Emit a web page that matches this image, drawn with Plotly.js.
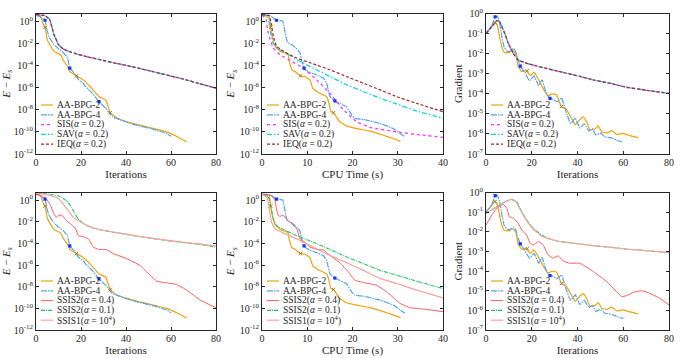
<!DOCTYPE html>
<html>
<head>
<meta charset="utf-8">
<script src="https://cdn.plot.ly/plotly-3.0.1.min.js"></script>
<style>
	html, body { margin: 0; padding: 0; background: #fff; }
	#chart { width: 692px; height: 358px; }
</style>
</head>
<body>
<div id="chart"></div>
<script>
	'use strict';

	/**
	* Values
	* E - Es is the energy error, Gradient is the gradient norm
	*/

	// AA-BPG-2 : E - Es vs iterations (top left & bottom left)
	const iterAA2 = [0, 2, 3, 4, 5, 7, 8, 11, 12, 14, 15, 18, 21, 24, 26, 28, 31, 33, 36, 43, 51, 58, 63, 67];
	const errIterAA2 = [3.2, 2.8, 0.71, 0.28, 2.2e-2, 3.8e-3, 1.9e-3, 9.3e-4, 3.3e-4, 8.1e-5, 2.8e-5, 1.15e-5, 5.0e-6, 1.26e-6, 4.4e-7, 1.5e-7, 7.6e-8, 5.4e-9, 1.7e-9, 5.8e-10, 2.3e-10, 1.0e-10, 3.5e-11, 1.26e-11];

	// AA-BPG-4 : E - Es vs iterations
	const iterAA4 = [0, 1, 4, 5, 6, 8, 10, 12, 14, 15, 17, 19, 21, 22, 25, 28, 31, 34, 37, 43, 51, 58, 60];
	const errIterAA4 = [3.5, 3.2, 1.23, 0.126, 3.2e-2, 7.9e-3, 3.2e-3, 1.6e-3, 5.0e-4, 5.8e-5, 2.0e-5, 5.0e-6, 2.5e-6, 1.26e-6, 3.2e-7, 5.4e-8, 1.35e-8, 2.3e-9, 1.35e-9, 5.0e-10, 2.0e-10, 7.1e-11, 4.0e-11];

	// SIS / SAV / IEQ (alpha = 0.2) overlap : E - Es vs iterations
	const iterSemi = [0, 4, 6, 8, 10, 12, 14, 18, 23, 28, 35, 43, 50, 58, 65, 72, 80];
	const errIterSemi = [4.2, 3.2, 1.58, 6.3e-2, 7.6e-3, 3.2e-3, 2.1e-3, 1.1e-3, 6.0e-4, 3.5e-4, 1.66e-4, 7.6e-5, 3.5e-5, 1.4e-5, 6.3e-6, 2.5e-6, 8.9e-7];

	// E - Es vs CPU time (top middle & bottom middle)
	const timeAA2 = [0, 1.6, 1.9, 2.2, 2.5, 2.9, 4.0, 5.1, 5.8, 6.0, 6.6, 7.3, 8.5, 9.5, 10.6, 11.2, 12.1, 14.3, 14.8, 15.2, 15.8, 17.2, 18.7, 20.9, 23.9, 26.8, 29, 30.6];
	const errTimeAA2 = [3.2, 2.8, 0.28, 5.0e-2, 1.6e-2, 5.4e-3, 1.9e-3, 1.35e-3, 9.3e-4, 2.3e-4, 4.0e-5, 2.8e-5, 1.15e-5, 1.0e-5, 5.0e-6, 8.9e-7, 4.4e-7, 1.5e-7, 3.8e-8, 6.6e-9, 5.4e-9, 8.1e-10, 3.3e-10, 2.0e-10, 1.15e-10, 5.0e-11, 2.5e-11, 1.4e-11];

	const timeAA4 = [0, 1.8, 3.2, 4.1, 4.6, 5.1, 5.6, 6.6, 7.7, 8.4, 8.8, 9.3, 10.2, 12.1, 13.6, 14.3, 15.0, 16.1, 17.2, 18.7, 19.8, 20.5, 22.4, 26.1, 29, 31.6];
	const errTimeAA4 = [3.5, 3.2, 1.23, 1.12, 1.0, 8.9e-2, 1.26e-2, 7.6e-3, 3.2e-3, 1.35e-3, 2.3e-4, 5.8e-5, 2.8e-5, 1.4e-5, 7.1e-6, 2.5e-6, 1.6e-7, 6.3e-8, 3.8e-8, 1.86e-8, 3.3e-9, 1.66e-9, 1.35e-9, 5.8e-10, 2.0e-10, 3.5e-11];

	const timeSIS = [0, 0.9, 1.2, 1.8, 2.5, 4, 6.2, 9.1, 12.1, 15, 18, 20.9, 23.9, 29.8, 34.2, 40];
	const errTimeSIS = [4.0, 1.4, 0.18, 2.2e-2, 3.8e-3, 9.3e-4, 2.9e-4, 5.8e-5, 5.0e-6, 3.2e-7, 1.0e-8, 8.1e-10, 2.5e-10, 1.0e-10, 5.8e-11, 3.2e-11];

	const timeSAV = [0, 1.2, 1.6, 1.9, 2.5, 3.2, 4.7, 7.7, 11.3, 15, 18.7, 22.4, 26.1, 29.8, 34.2, 40];
	const errTimeSAV = [4.0, 3.2, 0.71, 8.9e-2, 1.07e-2, 3.8e-3, 1.9e-3, 3.3e-4, 5.8e-5, 1.0e-5, 1.8e-6, 4.4e-7, 1.1e-7, 3.2e-8, 7.6e-9, 1.66e-9];

	const timeIEQ = [0, 1.6, 2.1, 2.5, 3.2, 4.7, 7.7, 11.3, 15, 18.7, 22.4, 26.1, 29.8, 34.2, 40];
	const errTimeIEQ = [4.0, 3.2, 0.5, 4.4e-2, 5.4e-3, 1.9e-3, 4.7e-4, 1.4e-4, 4.1e-5, 1.0e-5, 2.5e-6, 6.3e-7, 1.5e-7, 3.8e-8, 6.6e-9];

	// Gradient vs iterations (top right & bottom right)
	const gIterAA2 = [0, 2.5, 4, 5, 6, 7, 8, 10, 11.5, 13, 14, 15.5, 17.5, 19.5, 21, 23, 25, 27, 29, 30.8, 33, 35, 37.5, 39, 40.5, 42.5, 44, 45.5, 47.7, 49.1, 50.6, 53, 55, 57.2, 60, 63, 66.6];
	const gradAA2 = [0.1, 0.22, 0.35, 0.25, 6.3e-2, 2.0e-2, 1.17e-2, 1.12e-2, 1.5e-2, 1.0e-2, 2.5e-3, 1.3e-3, 1.4e-3, 7.9e-4, 1.2e-3, 5.0e-4, 1.8e-4, 7.9e-5, 1.0e-4, 8.9e-5, 2.3e-5, 1.8e-5, 5.6e-6, 2.8e-6, 4.5e-6, 7.1e-6, 4.0e-6, 1.6e-6, 1.8e-6, 2.5e-6, 1.26e-6, 1.12e-6, 1.45e-6, 9.3e-7, 1.07e-6, 8.3e-7, 6.5e-7];

	const gIterAA4 = [0, 2.5, 4, 5, 6, 7, 8, 9.5, 11, 12, 13, 14, 15, 17, 19, 21, 23, 24.5, 26, 27.7, 29, 31, 33, 35, 37, 39, 41, 43, 45, 46.5, 48, 50, 52, 55, 57, 60];
	const gradAA4 = [0.1, 0.24, 0.69, 0.71, 0.32, 6.3e-2, 2.0e-2, 1.26e-2, 1.4e-2, 1.8e-2, 1.26e-2, 5.0e-3, 2.4e-3, 1.12e-3, 4.5e-4, 7.9e-4, 2.5e-4, 5.0e-4, 1.4e-4, 5.9e-5, 5.6e-5, 4.0e-5, 6.3e-5, 1.26e-5, 3.2e-6, 6.3e-6, 2.0e-6, 3.2e-6, 1.4e-6, 1.8e-6, 8.9e-7, 1.12e-6, 7.1e-7, 6.3e-7, 5.0e-7, 3.8e-7];

	const gIterSemi = [0, 2.5, 4.7, 5.8, 7.6, 9.8, 11.9, 14.1, 17.8, 25, 32.3, 40, 46.9, 55, 61.5, 70, 80];
	const gradSemi = [0.102, 0.22, 0.44, 0.41, 0.15, 3.2e-2, 1.05e-2, 4.8e-3, 3.3e-3, 2.0e-3, 1.26e-3, 7.9e-4, 4.9e-4, 3.2e-4, 2.1e-4, 1.5e-4, 1.05e-4];

	// SSIS2 (alpha = 0.4), SSIS2 (alpha = 0.1), SSIS1 (alpha = 1e4) : E - Es vs iterations
	const iterS2a = [0, 1.3, 4.7, 6.2, 7.7, 8.9, 9.9, 11.4, 13.6, 15.9, 17.6, 18.8, 21, 23.3, 25.5, 27.7, 31.4, 34.4, 40.3, 46.2, 50.7, 53.6, 56.6, 62.5, 67, 72.9, 80];
	const errIterS2a = [3.5, 3.2, 1.23, 0.43, 7.2e-2, 2.5e-2, 3.6e-2, 4.2e-2, 1.26e-2, 5.0e-3, 2.2e-3, 5.2e-4, 4.3e-4, 2.6e-4, 4.5e-5, 2.8e-5, 2.6e-5, 1.12e-5, 3.9e-6, 9.3e-7, 1.15e-7, 3.2e-8, 2.5e-8, 1.6e-8, 4.8e-9, 5.8e-10, 1.15e-10];

	const iterS2b = [0, 6.2, 10.7, 13.6, 15.9, 17.3, 18.8, 21, 24, 28.4, 35.9, 43.3, 50, 58, 65, 72.9, 80];
	const errIterS2b = [4.4, 3.5, 2.1, 0.87, 0.21, 5.2e-2, 1.8e-2, 7.1e-3, 3.1e-3, 1.8e-3, 9.3e-4, 5.2e-4, 3.2e-4, 1.86e-4, 1.2e-4, 7.9e-5, 4.5e-5];

	const iterS1 = [0, 6.2, 9.9, 12.1, 14.4, 16.6, 19.6, 24, 28.4, 35.9, 43.3, 50, 58, 65, 72.9, 80];
	const errIterS1 = [4.4, 2.8, 1.4, 0.43, 0.105, 2.5e-2, 1.0e-2, 3.5e-3, 1.9e-3, 1.0e-3, 5.6e-4, 3.4e-4, 2.0e-4, 1.3e-4, 8.9e-5, 5.6e-5];

	// SSIS : E - Es vs CPU time
	const timeS2a = [0, 2.1, 2.9, 3.2, 3.6, 4.1, 4.7, 5.4, 6.6, 7.7, 8.4, 9.5, 10.6, 12.1, 13.6, 15, 17.2, 19.1, 20.5, 22.4, 25.3, 27.6, 30.5, 32.7, 35.6, 40];
	const errTimeS2a = [3.5, 2.5, 0.87, 0.148, 3.6e-2, 3.2e-2, 4.2e-2, 1.8e-2, 6.3e-3, 2.2e-3, 2.6e-4, 1.3e-4, 4.5e-5, 2.8e-5, 2.5e-5, 7.8e-6, 1.66e-6, 2.3e-7, 4.0e-8, 2.4e-8, 1.4e-8, 3.3e-9, 2.9e-10, 1.15e-10, 8.7e-11, 5.0e-11];

	const timeS2b = [0, 1.4, 2.1, 2.5, 3.2, 4.7, 7.7, 11.3, 15, 18.7, 22.4, 26.1, 29.8, 34.2, 40];
	const errTimeS2b = [3.5, 2.0, 0.148, 1.8e-2, 4.4e-3, 1.9e-3, 5.2e-4, 1.3e-4, 2.8e-5, 5.5e-6, 1.35e-6, 3.2e-7, 1.15e-7, 3.2e-8, 6.8e-9];

	const timeS1 = [0, 1.2, 1.6, 2.1, 2.9, 4.7, 7.7, 11.3, 15, 18.7, 22.4, 26.1, 29.8, 34.2, 40];
	const errTimeS1 = [3.5, 1.58, 0.148, 8.9e-3, 2.2e-3, 9.3e-4, 2.6e-4, 4.5e-5, 7.8e-6, 1.66e-6, 3.2e-7, 5.6e-8, 1.95e-8, 4.8e-9, 9.3e-10];

	// SSIS : Gradient vs iterations
	const gIterS2a = [0, 2.5, 5.4, 7.6, 9.1, 10.2, 12, 14.1, 15.6, 17.8, 19.2, 20.7, 22.9, 25, 27.2, 29.4, 31.6, 33.8, 36.7, 41.1, 47, 52.8, 57.1, 59.3, 61.5, 64.4, 68, 71, 76, 80];
	const gradS2a = [2.2e-2, 7.1e-2, 0.19, 0.25, 0.158, 5.9e-2, 5.0e-2, 2.7e-2, 1.23e-2, 6.9e-3, 2.6e-3, 2.1e-3, 3.2e-3, 2.1e-3, 6.6e-4, 4.5e-4, 6.0e-4, 3.2e-4, 2.5e-4, 2.5e-4, 9.3e-5, 2.9e-5, 8.9e-6, 5.0e-6, 5.6e-6, 8.3e-6, 1.0e-5, 7.9e-6, 4.1e-6, 1.86e-6];

	const gIterS2b = [0, 4.7, 8.3, 11.2, 13.4, 15.6, 17.8, 20.7, 24.3, 28, 32.3, 40, 46.9, 55, 61.5, 70, 80];
	const gradS2b = [8.7e-2, 0.19, 0.34, 0.45, 0.34, 0.105, 4.0e-2, 1.5e-2, 6.9e-3, 4.3e-3, 3.2e-3, 2.5e-3, 1.95e-3, 1.6e-3, 1.3e-3, 1.1e-3, 8.7e-4];

	const gIterS1 = [0, 4.7, 8.3, 11, 13, 15.3, 17.5, 20.5, 24, 28, 32.3, 40, 46.9, 55, 61.5, 70, 80];
	const gradS1 = [8.7e-2, 0.18, 0.33, 0.44, 0.35, 0.11, 4.0e-2, 1.4e-2, 6.3e-3, 4.2e-3, 3.2e-3, 2.5e-3, 2.0e-3, 1.6e-3, 1.3e-3, 1.1e-3, 8.9e-4];

	// restart markers on the AA-BPG runs
	const markIterAA2 = [4, 18, 33];
	const markErrIterAA2 = [0.28, 1.15e-5, 5.4e-9];
	const markIterAA4 = [4, 15, 28];
	const markErrIterAA4 = [1.23, 5.8e-5, 5.4e-8];
	const markTimeAA2 = [1.9, 8.5, 15.8];
	const markErrTimeAA2 = [0.28, 1.15e-5, 5.4e-9];
	const markTimeAA4 = [3.2, 9.3, 16.1];
	const markErrTimeAA4 = [1.23, 5.8e-5, 6.3e-8];
	const markGradAA2 = [0.35, 1.4e-3, 2.3e-5];
	const markGradAA4 = [0.69, 2.4e-3, 5.9e-5];

	// tick labels
	const errExponents = [0, -2, -4, -6, -8, -10, -12];
	const gradExponents = [0, -1, -2, -3, -4, -5, -6, -7];
	const iterTicks = [0, 20, 40, 60, 80];
	const timeTicks = [0, 10, 20, 30, 40];

	(function(){

		const W = 692, H = 358;
		const FONT = '"Liberation Serif", "Times New Roman", serif';
		const INK = '#262626';

		/**
		* Line styles (MATLAB-ish)
		*/
		const styles = {
			aa2:  { color: '#f0a30a', dash: 'solid', width: 1.2 },
			aa4:  { color: '#4ea4f2', dash: '6px,1px,1.5px,1px', width: 1.2 },
			sis:  { color: '#ff33ff', dash: 'dot', width: 1.3 },
			sav:  { color: '#17d4d4', dash: '5px,2px,1.5px,2px', width: 1.3 },
			ieq:  { color: '#a8242e', dash: '3px,2px', width: 1.2 },
			s2a:  { color: '#ff5a5a', dash: 'solid', width: 1 },
			s2b:  { color: '#27c46f', dash: '4px,1px,1px,1px', width: 1.1 },
			s1:   { color: '#f5a49c', dash: 'solid', width: 1.2 },
		};

		const alpha = (v) => `(<i>α</i> = ${v})`;

		/**
		* Pixel boxes of the 6 axes (left, right, top, bottom)
		*/
		const boxes = [
			[36, 216, 13.5, 154], [262, 443, 13.5, 154], [486, 669, 13.5, 154],
			[36, 216, 192.5, 330], [262, 443, 192.5, 330], [486, 669, 192.5, 330],
		];

		/**
		* Sub-plot content
		*/
		const panels = [
			{ y: 'err', x: 'iter', series: [
				['AA-BPG-2', 'aa2', iterAA2, errIterAA2],
				['AA-BPG-4', 'aa4', iterAA4, errIterAA4],
				['SIS' + alpha('0.2'), 'sis', iterSemi, errIterSemi],
				['SAV' + alpha('0.2'), 'sav', iterSemi, errIterSemi],
				['IEQ' + alpha('0.2'), 'ieq', iterSemi, errIterSemi],
			], marks: [[markIterAA2, markErrIterAA2], [markIterAA4, markErrIterAA4]] },
			{ y: 'err', x: 'time', series: [
				['AA-BPG-2', 'aa2', timeAA2, errTimeAA2],
				['AA-BPG-4', 'aa4', timeAA4, errTimeAA4],
				['SIS' + alpha('0.2'), 'sis', timeSIS, errTimeSIS],
				['SAV' + alpha('0.2'), 'sav', timeSAV, errTimeSAV],
				['IEQ' + alpha('0.2'), 'ieq', timeIEQ, errTimeIEQ],
			], marks: [[markTimeAA2, markErrTimeAA2], [markTimeAA4, markErrTimeAA4]] },
			{ y: 'grad', x: 'iter', series: [
				['AA-BPG-2', 'aa2', gIterAA2, gradAA2],
				['AA-BPG-4', 'aa4', gIterAA4, gradAA4],
				['SIS' + alpha('0.2'), 'sis', gIterSemi, gradSemi],
				['SAV' + alpha('0.2'), 'sav', gIterSemi, gradSemi],
				['IEQ' + alpha('0.2'), 'ieq', gIterSemi, gradSemi],
			], marks: [[markIterAA2, markGradAA2], [markIterAA4, markGradAA4]] },
			{ y: 'err', x: 'iter', series: [
				['AA-BPG-2', 'aa2', iterAA2, errIterAA2],
				['AA-BPG-4', 'aa4', iterAA4, errIterAA4],
				['SSIS2' + alpha('0.4'), 's2a', iterS2a, errIterS2a],
				['SSIS2' + alpha('0.1'), 's2b', iterS2b, errIterS2b],
				['SSIS1' + alpha('10<sup>4</sup>'), 's1', iterS1, errIterS1],
			], marks: [[markIterAA2, markErrIterAA2], [markIterAA4, markErrIterAA4]] },
			{ y: 'err', x: 'time', series: [
				['AA-BPG-2', 'aa2', timeAA2, errTimeAA2],
				['AA-BPG-4', 'aa4', timeAA4, errTimeAA4],
				['SSIS2' + alpha('0.4'), 's2a', timeS2a, errTimeS2a],
				['SSIS2' + alpha('0.1'), 's2b', timeS2b, errTimeS2b],
				['SSIS1' + alpha('10<sup>4</sup>'), 's1', timeS1, errTimeS1],
			], marks: [[markTimeAA2, markErrTimeAA2], [markTimeAA4, markErrTimeAA4]] },
			{ y: 'grad', x: 'iter', series: [
				['AA-BPG-2', 'aa2', gIterAA2, gradAA2],
				['AA-BPG-4', 'aa4', gIterAA4, gradAA4],
				['SSIS2' + alpha('0.4'), 's2a', gIterS2a, gradS2a],
				['SSIS2' + alpha('0.1'), 's2b', gIterS2b, gradS2b],
				['SSIS1' + alpha('10<sup>4</sup>'), 's1', gIterS1, gradS1],
			], marks: [[markIterAA2, markGradAA2], [markIterAA4, markGradAA4]] },
		];

		const axisBase = () => ({
			showline: true, linecolor: INK, linewidth: 1, mirror: 'ticks',
			ticks: 'inside', ticklen: 3, tickwidth: 1, tickcolor: INK,
			showgrid: false, zeroline: false, automargin: false,
			tickfont: { family: FONT, size: 10, color: INK },
		});

		const data = [];
		const shapes = [];
		const annotations = [];
		const layout = {
			width: W, height: H,
			margin: { l: 0, r: 0, t: 0, b: 0 },
			paper_bgcolor: '#fff', plot_bgcolor: '#fff',
			showlegend: false,
			font: { family: FONT, color: INK },
		};

		panels.forEach(( panel, i ) => {
			const n = i === 0 ? '' : String( i + 1 );
			const [ left, right, top, bottom ] = boxes[i];

			/*
			Axes
			*/
			const isTime = panel.x === 'time';
			const xTicks = isTime ? timeTicks : iterTicks;
			layout['xaxis' + n] = Object.assign( axisBase(), {
				domain: [ left / W, right / W ],
				anchor: 'y' + n,
				range: [ 0, xTicks[ xTicks.length - 1 ]],
				tickvals: xTicks,
				ticklabelstandoff: -1,
				title: { text: isTime ? 'CPU Time (s)' : 'Iterations', font: { family: FONT, size: 11, color: INK }, standoff: 0 },
			});

			const exps = panel.y === 'err' ? errExponents : gradExponents;
			layout['yaxis' + n] = Object.assign( axisBase(), {
				domain: [ 1 - bottom / H, 1 - top / H ],
				anchor: 'x' + n,
				type: 'log',
				range: panel.y === 'err' ? [ -12, 0.7 ] : [ -7, 0 ],
				tickvals: exps.map( e => Math.pow( 10, e )),
				ticktext: exps.map( e => `10<sup>${e}</sup>` ),
				title: {
					text: panel.y === 'err' ? '<i>E</i> − <i>E<sub>s</sub></i>' : 'Gradient',
					font: { family: FONT, size: 11, color: INK },
					standoff: 2,
				},
			});

			/*
			Traces
			*/
			panel.series.forEach(([ name, key, xs, ys ]) => {
				const s = styles[ key ];
				data.push({
					x: xs, y: ys, name,
					xaxis: 'x' + n, yaxis: 'y' + n,
					type: 'scatter', mode: 'lines',
					line: { color: s.color, dash: s.dash, width: s.width, shape: 'spline', smoothing: 0.25 },
					hoverinfo: 'skip',
				});
			});

			// restart markers
			const [ mark2, mark4 ] = panel.marks;
			data.push({
				x: mark2[0], y: mark2[1], xaxis: 'x' + n, yaxis: 'y' + n,
				type: 'scatter', mode: 'markers',
				marker: { symbol: 'x-thin-open', size: 3.5, color: '#a6781f', line: { width: 1, color: '#a6781f' }},
				hoverinfo: 'skip',
			});
			data.push({
				x: mark4[0], y: mark4[1], xaxis: 'x' + n, yaxis: 'y' + n,
				type: 'scatter', mode: 'markers',
				marker: { symbol: 'square', size: 3.2, color: '#1534ff' },
				hoverinfo: 'skip',
			});

			/*
			Legend (drawn by hand, Plotly's own legend rows are too tall)
			*/
			const rowStart = bottom - 49;
			const rowGap = 9.8;
			panel.series.forEach(([ name, key ], r ) => {
				const s = styles[ key ];
				const yPx = rowStart + r * rowGap;
				shapes.push({
					type: 'line', xref: 'paper', yref: 'paper',
					x0: ( left + 5 ) / W, x1: ( left + 17 ) / W,
					y0: 1 - yPx / H, y1: 1 - yPx / H,
					line: { color: s.color, dash: s.dash, width: s.width },
				});
				annotations.push({
					xref: 'paper', yref: 'paper',
					x: ( left + 18.5 ) / W, y: 1 - yPx / H,
					xanchor: 'left', yanchor: 'middle',
					text: name, showarrow: false,
					font: { family: FONT, size: 9.5, color: INK },
				});
			});
		});

		layout.shapes = shapes;
		layout.annotations = annotations;

		Plotly.newPlot( 'chart', data, layout, { displayModeBar: false, staticPlot: true });

	})();
</script>
</body>
</html>
